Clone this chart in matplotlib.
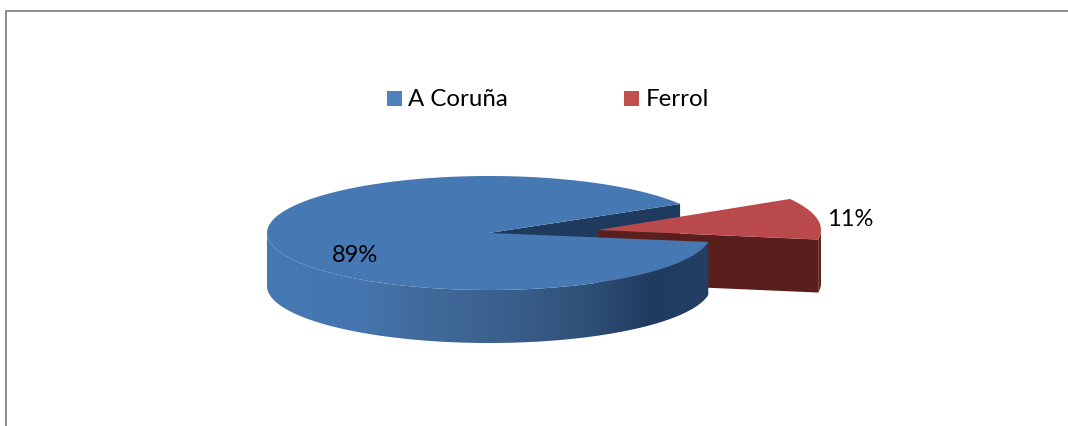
#!/usr/bin/env python3
import matplotlib
matplotlib.use("Agg")
import matplotlib.pyplot as plt
from matplotlib.colors import LinearSegmentedColormap
from matplotlib.patches import Polygon, Rectangle
import numpy as np

categories = ["A Coruña", "Ferrol"]
values = [89, 11]
labels = ["89%", "11%"]

plt.rcParams['font.family'] = ['Lato', 'DejaVu Sans']

W, H = 1068, 426
START = 30.6      # angle where the first slice starts, counter clockwise
DEPTH = 53

def arc(cx, cy, rx, ry, a, b, dy=0):
  t = np.radians(np.linspace(a, b, 200))
  return np.column_stack([cx + rx*np.cos(t), cy - ry*np.sin(t) + dy])

def shade(ax, pts, stops, z):
  # horizontal gradient clipped to a polygon
  cmap = LinearSegmentedColormap.from_list("side", stops)
  x0, x1 = pts[:, 0].min(), pts[:, 0].max()
  y0, y1 = pts[:, 1].min(), pts[:, 1].max()
  grad = np.linspace(0, 1, 256).reshape(1, -1)
  im = ax.imshow(grad, cmap=cmap, extent=(x0, x1, y1, y0), aspect="auto", zorder=z)
  p = Polygon(pts, closed=True, transform=ax.transData, fc="none", ec="none")
  ax.add_patch(p)
  im.set_clip_path(p)

def wall(pts):
  return np.vstack([pts, (pts + [0, DEPTH])[::-1]])

fig = plt.figure(figsize=(W/100, H/100), dpi=100)
ax = fig.add_axes([0, 0, 1, 1])

sweeps = np.array(values) / sum(values) * 360
a0 = START
a1 = a0 + sweeps[0]
a2 = a1 + sweeps[1]

# blue slice
bx, by, brx, bry = 489, 233, 222, 57
rim = arc(bx, by, brx, bry, a0, a1)
top = np.vstack([[bx, by], rim])

# inner wall seen through the gap
inner = np.array([[bx, by], rim[0]])
ax.add_patch(Polygon(wall(inner), closed=True, fc="#1f3a5f", ec="none", zorder=1))

# red slice, pulled out from the pie
rx, ry, rrx, rry = 598, 230, 223, 61
rim2 = arc(rx, ry, rrx, rry, a1, a2)
top2 = np.vstack([[rx, ry], rim2])
cut = np.array([[rx, ry], rim2[0]])
ax.add_patch(Polygon(wall(cut), closed=True, fc="#5a1f1d", ec="none", zorder=2))
front = rim2[np.radians(np.linspace(a1, a2, 200)) % (2*np.pi) > np.pi]
ax.add_patch(Polygon(wall(front), closed=True, fc="#5f201e", ec="none", zorder=2))
ax.add_patch(Polygon(top2, closed=True, fc="#b9494a", ec="none", zorder=3))

# blue outer wall and top
front = arc(bx, by, brx, bry, 180, a1)
shade(ax, wall(front), [(0, "#4678b3"), (0.2, "#4576af"), (0.35, "#416a9c"),
                        (0.55, "#3a5f8c"), (0.72, "#2f5078"), (0.87, "#203b60"),
                        (1, "#233f64")], 4)
ax.add_patch(Polygon(top, closed=True, fc="#4678b3", ec="none", zorder=5))

# value labels
ax.text(355, 256, labels[0], fontsize=17, color="black", ha="center", va="center", zorder=6)
ax.text(850, 220, labels[1], fontsize=17, color="black", ha="center", va="center", zorder=6)

# legend
ax.add_patch(Rectangle((387, 91), 15, 15, fc="#4f81bd", ec="none", zorder=6))
ax.text(408, 106, categories[0], fontsize=17.3, color="black", ha="left", va="baseline", zorder=6)
ax.add_patch(Rectangle((624, 91), 15, 15, fc="#c0504d", ec="none", zorder=6))
ax.text(646, 106, categories[1], fontsize=17.3, color="black", ha="left", va="baseline", zorder=6)

# chart frame, only top and left are in the crop
ax.plot([5.5, 5.5, W], [H, 10.5, 10.5], color="#8c8c8c", lw=1.4, solid_joinstyle="miter", zorder=7)

ax.set_xlim(0, W)
ax.set_ylim(H, 0)
ax.axis("off")

fig.savefig("out.png", dpi=100, facecolor="white")
